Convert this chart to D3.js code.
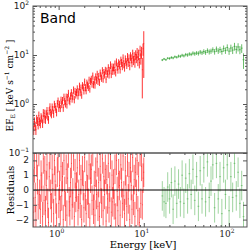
<!DOCTYPE html>
<html>
<head>
<meta charset="utf-8">
<script src="https://cdn.jsdelivr.net/npm/d3@7"></script>
<style>
  body { margin: 0; background: #fff; }
  svg { display: block; }
  .sans { font-family: "DejaVu Sans", sans-serif; }
  .serif { font-family: "DejaVu Serif", serif; }
</style>
</head>
<body>
<svg width="249" height="251"></svg>
<script>
// XRT-like channels (red), keV
const redEnergy = [
  0.500,0.510,0.520,0.531,0.541,0.552,0.563,0.575,0.586,0.598,
  0.610,0.622,0.635,0.648,0.661,0.674,0.688,0.701,0.716,0.730,
  0.745,0.760,0.775,0.791,0.807,0.823,0.839,0.856,0.874,0.891,
  0.909,0.928,0.946,0.965,0.985,1.005,1.025,1.046,1.067,1.088,
  1.110,1.133,1.155,1.179,1.202,1.227,1.251,1.276,1.302,1.329,
  1.355,1.383,1.411,1.439,1.468,1.498,1.528,1.559,1.590,1.622,
  1.655,1.689,1.723,1.757,1.793,1.829,1.866,1.904,1.942,1.981,
  2.021,2.062,2.104,2.146,2.189,2.233,2.278,2.324,2.371,2.419,
  2.468,2.518,2.569,2.620,2.673,2.727,2.782,2.838,2.896,2.954,
  3.014,3.075,3.137,3.200,3.265,3.331,3.398,3.467,3.537,3.608,
  3.681,3.755,3.831,3.909,3.987,4.068,4.150,4.234,4.319,4.407,
  4.496,4.586,4.679,4.773,4.870,4.968,5.068,5.171,5.275,5.382,
  5.490,5.601,5.714,5.830,5.947,6.067,6.190,6.315,6.442,6.572,
  6.705,6.840,6.978,7.119,7.263,7.410,7.559,7.712,7.867,8.026,
  8.188,8.353,8.522,8.694,8.869,9.048,9.231,9.417,9.607,9.801,
  9.999
];
const redFlux = [
  0.368,0.295,0.438,0.359,0.299,0.495,0.451,0.378,0.580,0.442,
  0.400,0.542,0.508,0.405,0.661,0.500,0.645,0.485,0.619,0.734,
  0.567,0.480,0.733,0.876,0.675,0.622,0.870,0.772,0.637,0.994,
  0.888,0.791,0.681,1.021,1.158,0.838,0.996,0.823,1.210,0.991,
  1.188,0.843,1.390,1.136,1.021,1.394,0.984,1.372,1.663,1.200,
  1.134,1.468,1.718,1.282,1.464,1.947,1.242,1.823,1.555,1.731,
  2.053,1.482,1.775,2.309,1.733,2.133,1.539,2.389,2.215,1.879,
  2.822,2.177,1.900,2.688,2.456,2.237,3.086,2.053,2.935,3.225,
  2.594,3.752,2.510,3.113,2.474,3.607,3.108,4.042,2.949,3.677,
  2.805,4.314,3.738,3.401,4.823,3.269,4.424,3.983,4.863,3.210,
  4.720,4.159,5.537,4.027,4.888,6.277,4.115,5.751,4.782,5.646,
  4.840,6.553,4.449,7.203,5.857,5.061,6.934,6.436,5.091,7.777,
  6.996,6.040,8.666,6.591,5.715,8.249,7.294,6.452,9.200,7.131,
  8.580,6.099,9.492,8.495,7.051,10.61,7.870,9.382,6.969,10.21,
  8.736,11.30,7.697,10.39,6.994,12.40,8.572,11.57,5.000,13.38,
  17.0
];
const redErrPct = [
  22,21,22,21,22,21,21,20,21,20,
  20,20,19,20,19,19,19,19,19,18,
  19,18,18,18,18,18,18,18,18,17,
  18,17,18,17,17,18,17,17,17,17,
  17,18,17,17,17,17,18,17,17,17,
  17,17,17,17,18,17,17,17,17,17,
  17,17,17,18,17,17,17,17,17,17,
  17,17,17,17,17,18,17,17,17,17,
  17,17,17,17,17,17,17,18,17,17,
  17,17,18,17,17,17,17,17,18,17,
  18,17,17,18,17,18,18,17,18,18,
  18,18,18,18,19,18,18,19,18,19,
  19,19,19,19,20,19,19,20,19,20,
  20,20,20,21,20,21,21,22,21,22,
  22,23,23,24,24,25,26,27,74,28,
  80
];
const redResid = [
  0.4,-1.5,1.5,-0.5,-2.0,1.9,0.7,-1.0,2.6,-0.3,
  -1.3,1.0,0.2,-1.8,2.1,-0.7,1.3,-1.4,0.3,1.7,
  -0.9,-2.2,0.9,2.4,-0.3,-1.2,1.4,0.1,-1.6,2.0,
  0.6,-0.6,-1.9,1.2,2.2,-0.9,0.3,-1.4,1.6,-0.4,
  0.9,-2.0,2.0,-0.1,-1.1,1.4,-1.7,0.8,2.5,-0.8,
  -1.4,0.5,1.8,-1.0,-0.2,2.3,-1.8,1.1,-0.5,0.2,
  1.5,-1.4,-0.3,2.0,-0.9,0.7,-2.0,1.3,0.3,-1.2,
  2.2,-0.4,-1.6,1.0,0.0,-0.9,1.7,-1.9,0.8,1.4,
  -0.7,2.6,-1.3,0.3,-1.7,1.2,-0.3,1.9,-1.1,0.5,
  -1.8,1.6,0.1,-0.9,2.1,-1.4,0.9,-0.3,1.4,-2.1,
  0.7,-0.6,1.8,-1.2,0.2,2.4,-1.5,1.0,-0.8,0.4,
  -1.0,1.4,-1.9,2.0,-0.1,-1.4,1.1,0.3,-1.7,1.7,
  0.5,-0.9,2.3,-0.4,-1.6,1.3,0.0,-1.1,1.9,-0.6,
  0.9,-2.0,1.5,0.3,-1.3,2.2,-0.7,0.7,-1.8,1.2,
  -0.3,2.0,-1.4,0.9,-2.2,2.6,-0.9,1.6,-1.0,0.8,
  1.2
];

// BAT-like channels (green), keV
const greenEnergy = [
  16.5,17.3,18.2,19.1,20.1,21.1,22.1,23.2,24.4,25.6,
  26.9,28.2,29.6,31.1,32.7,34.3,36.0,37.8,39.7,41.7,
  43.8,46.0,48.3,50.7,53.2,55.9,58.7,61.6,64.7,67.9,
  71.3,74.9,78.6,82.6,86.7,91.0,95.6,100.4,105.4,110.6,
  116.2,122.0,128.1,134.5,141.2,148.3
];
const greenFlux = [
  7.9,8.3,8.0,8.6,8.5,8.9,8.7,9.2,9.0,9.5,
  9.4,9.9,9.6,10.2,10.0,10.5,10.3,10.9,10.6,11.0,
  10.8,11.5,11.1,11.8,11.3,12.3,11.6,12.0,12.8,11.7,
  13.2,12.1,12.9,11.8,13.6,12.4,14.2,12.0,13.9,12.6,
  15.0,13.0,14.6,12.8,13.8,8.0
];
const greenErrPct = [
  5,5,5,5,6,6,6,6,6,7,
  7,7,7,8,8,8,8,9,9,9,
  10,10,10,11,11,11,12,12,12,13,
  13,13,14,14,15,15,16,16,17,17,
  18,18,19,19,20,35
];
const greenResid = [
  -0.4,-0.8,-0.9,0.2,-0.6,0.5,-1.3,0.6,-0.9,0.4,
  -0.8,1.0,-0.9,0.8,-0.6,1.1,-0.3,1.4,-0.7,0.9,
  -1.1,1.3,-0.6,1.5,-0.8,1.9,-0.5,0.6,1.7,-1.2,
  1.8,-0.6,0.9,-1.6,1.5,-0.3,1.7,-1.4,0.9,-0.5,
  1.8,-0.4,1.2,-0.9,0.3,-1.8
];

const fluxTicks = [0.1, 1, 10, 100];
const fluxTickExp = ["-1", "0", "1", "2"];
const energyTicks = [1, 10, 100];
const energyTickExp = ["0", "1", "2"];
const residTicks = [-2, -1, 0, 1, 2];

const svg = d3.select("svg");
const pLeft = 33, pRight = 247, pTop = 6, pMid = 153, pBottom = 227;
const frameColor = "#555";

const x = d3.scaleLog().domain([0.5, 163]).range([pLeft, pRight]);
const yF = d3.scaleLog().domain([0.1, 100]).range([pMid, pTop]);
const yR = d3.scaleLinear().domain([-2.5, 2.5]).range([pBottom, pMid]);

const defs = svg.append("defs");
defs.append("clipPath").attr("id", "clipTop")
  .append("rect").attr("x", pLeft).attr("y", pTop).attr("width", pRight - pLeft).attr("height", pMid - pTop);
defs.append("clipPath").attr("id", "clipBot")
  .append("rect").attr("x", pLeft).attr("y", pMid).attr("width", pRight - pLeft).attr("height", pBottom - pMid);

function bins(energy) {
  return energy.map((e, i) => {
    const prev = i > 0 ? energy[i - 1] : e * e / energy[i + 1];
    const next = i < energy.length - 1 ? energy[i + 1] : e * e / energy[i - 1];
    return {e, lo: Math.sqrt(prev * e), hi: Math.sqrt(e * next)};
  });
}

function drawSpectrum(g, energy, flux, pct, color, op) {
  const b = bins(energy);
  b.forEach((d, i) => {
    const v = flux[i], err = v * pct[i] / 100;
    g.append("line")
      .attr("x1", x(d.lo)).attr("x2", x(d.hi))
      .attr("y1", yF(v)).attr("y2", yF(v))
      .attr("stroke", color).attr("stroke-opacity", op);
    g.append("line")
      .attr("x1", x(d.e)).attr("x2", x(d.e))
      .attr("y1", yF(Math.max(v - err, 0.05))).attr("y2", yF(v + err))
      .attr("stroke", color).attr("stroke-opacity", op);
  });
}

function drawResid(g, energy, res, color, op) {
  const b = bins(energy);
  b.forEach((d, i) => {
    const r = res[i];
    g.append("line")
      .attr("x1", x(d.lo)).attr("x2", x(d.hi))
      .attr("y1", yR(r)).attr("y2", yR(r))
      .attr("stroke", color).attr("stroke-opacity", op);
    g.append("line")
      .attr("x1", x(d.e)).attr("x2", x(d.e))
      .attr("y1", yR(r - 1)).attr("y2", yR(r + 1))
      .attr("stroke", color).attr("stroke-opacity", op);
  });
}

// data
const topG = svg.append("g").attr("clip-path", "url(#clipTop)");
drawSpectrum(topG, redEnergy, redFlux, redErrPct, "#ff0000", 0.8);
drawSpectrum(topG, greenEnergy, greenFlux, greenErrPct, "#2ca02c", 0.7);

const botG = svg.append("g").attr("clip-path", "url(#clipBot)");
drawResid(botG, redEnergy, redResid, "#ff0000", 0.6);
drawResid(botG, greenEnergy, greenResid, "#2ca02c", 0.45);
botG.append("line")
  .attr("x1", pLeft).attr("x2", pRight).attr("y1", yR(0)).attr("y2", yR(0))
  .attr("stroke", "#000").attr("stroke-width", 1);

// minor log ticks
const minorX = [], minorF = [];
[0.1, 1, 10, 100].forEach(dec => {
  for (let k = 2; k <= 9; k++) {
    const v = dec * k;
    if (v > 0.5 && v < 163) minorX.push(v);
    if (v > 0.1 && v < 100) minorF.push(v);
  }
});

function axis(gen, scale, vals, size, pos) {
  const g = svg.append("g").attr("transform", pos)
    .call(gen(scale).tickValues(vals).tickSizeInner(size).tickSizeOuter(0).tickFormat(""));
  g.select(".domain").remove();
  g.selectAll("line").attr("stroke", frameColor);
  return g;
}

// upper panel ticks
axis(d3.axisLeft, yF, fluxTicks, -4, `translate(${pLeft},0)`);
axis(d3.axisLeft, yF, minorF, -2, `translate(${pLeft},0)`);
axis(d3.axisRight, yF, fluxTicks, -4, `translate(${pRight},0)`);
axis(d3.axisRight, yF, minorF, -2, `translate(${pRight},0)`);
axis(d3.axisTop, x, energyTicks, -4, `translate(0,${pTop})`);
axis(d3.axisTop, x, minorX, -2, `translate(0,${pTop})`);
// lower panel ticks
axis(d3.axisBottom, x, energyTicks, 4, `translate(0,${pMid})`);
axis(d3.axisBottom, x, minorX, 2, `translate(0,${pMid})`);
axis(d3.axisTop, x, energyTicks, 4, `translate(0,${pBottom})`);
axis(d3.axisTop, x, minorX, 2, `translate(0,${pBottom})`);
axis(d3.axisLeft, yR, residTicks, -4, `translate(${pLeft},0)`);
axis(d3.axisRight, yR, residTicks, -4, `translate(${pRight},0)`);

// frames
[[pTop, pMid], [pMid, pBottom]].forEach(([a, b]) => {
  svg.append("rect").attr("x", pLeft).attr("y", a).attr("width", pRight - pLeft).attr("height", b - a)
    .attr("fill", "none").attr("stroke", frameColor).attr("stroke-width", 1);
});

// tick labels
fluxTicks.forEach((v, i) => {
  const t = svg.append("text").attr("class", "sans").attr("font-size", 9)
    .attr("x", pLeft - 4).attr("y", yF(v) + 3).attr("text-anchor", "end").attr("fill", "#222");
  t.append("tspan").text("10");
  t.append("tspan").attr("font-size", 6).attr("dy", -4).text(fluxTickExp[i].replace("-", "\u2212"));
});
residTicks.forEach(v => {
  svg.append("text").attr("class", "sans").attr("font-size", 9)
    .attr("x", pLeft - 4).attr("y", yR(v) + 3).attr("text-anchor", "end").attr("fill", "#222")
    .text(v < 0 ? "\u2212" + Math.abs(v) : v);
});
energyTicks.forEach((v, i) => {
  const t = svg.append("text").attr("class", "serif").attr("font-size", 9)
    .attr("x", x(v) - 2).attr("y", pBottom + 10).attr("text-anchor", "middle").attr("fill", "#222");
  t.append("tspan").text("10");
  t.append("tspan").attr("font-size", 6).attr("dy", -4).text(energyTickExp[i]);
});

// titles
svg.append("text").attr("class", "sans").attr("font-size", 14)
  .attr("x", 40).attr("y", 23).attr("fill", "#000").text("Band");

svg.append("text").attr("class", "serif").attr("font-size", 10)
  .attr("x", (pLeft + pRight) / 2 + 3).attr("y", 248).attr("text-anchor", "middle").text("Energy [keV]");

const yl = svg.append("text").attr("class", "serif").attr("font-size", 9)
  .attr("transform", `translate(13,${(pTop + pMid) / 2 + 6}) rotate(-90)`).attr("text-anchor", "middle");
yl.append("tspan").text("EF");
yl.append("tspan").attr("font-size", 6).attr("dy", 2).text("E");
yl.append("tspan").attr("dy", -2).text(" [ keV s");
yl.append("tspan").attr("font-size", 6).attr("dy", -4).text("\u22121");
yl.append("tspan").attr("dy", 4).text(" cm");
yl.append("tspan").attr("font-size", 6).attr("dy", -4).text("\u22122");
yl.append("tspan").attr("dy", 4).text(" ]");

svg.append("text").attr("class", "serif").attr("font-size", 10)
  .attr("transform", `translate(14,${(pMid + pBottom) / 2}) rotate(-90)`).attr("text-anchor", "middle")
  .text("Residuals");
</script>
</body>
</html>
